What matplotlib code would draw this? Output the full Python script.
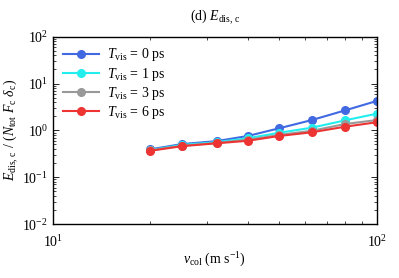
import matplotlib
matplotlib.use('Agg')
import matplotlib.pyplot as plt
import matplotlib.ticker as ticker
import numpy as np

plt.rcParams['font.family'] = ['Liberation Serif', 'DejaVu Serif']
plt.rcParams['mathtext.fontset'] = 'custom'
plt.rcParams['mathtext.rm'] = 'Liberation Serif'
plt.rcParams['mathtext.it'] = 'Liberation Serif:italic'
plt.rcParams['font.size'] = 10

v_col = [20, 25, 32, 40, 50, 63, 80, 100]
e_0ps = [0.394, 0.51, 0.59, 0.76, 1.11, 1.66, 2.68, 4.24]
e_1ps = [0.38, 0.49, 0.56, 0.68, 0.89, 1.14, 1.64, 2.27]
e_3ps = [0.375, 0.47, 0.54, 0.63, 0.80, 0.98, 1.37, 1.66]
e_6ps = [0.367, 0.46, 0.53, 0.60, 0.76, 0.91, 1.20, 1.49]

series = [(e_0ps, '#4169e1', 0), (e_1ps, '#22eeee', 1), (e_3ps, '#999999', 3), (e_6ps, '#ee3333', 6)]

fig = plt.figure(figsize=(3.99, 2.78), dpi=100)
ax = fig.add_axes([0.133, 0.194, 0.811, 0.674])

for vals, col, t in series:
    ax.plot(v_col, vals, '-o', color=col, lw=1.5, ms=5.5,
            label=r'$T_{\rm vis}$ = %d ps' % t)

ax.set_xscale('log')
ax.set_yscale('log')
ax.set_xlim(10, 100)
ax.set_ylim(1e-2, 1e2)
ax.xaxis.set_minor_formatter(ticker.NullFormatter())
ax.yaxis.set_minor_formatter(ticker.NullFormatter())
ax.tick_params(which='both', direction='in', top=True, right=True)
ax.tick_params(which='major', length=4, width=0.6)
ax.tick_params(which='minor', length=2, width=0.5)
ax.tick_params(axis='x', which='major', pad=7)
for s in ax.spines.values():
    s.set_linewidth(1.0)

ax.set_xlabel(r'$v_{\rm col}$ (m s$^{-1}$)', labelpad=1)
ax.set_ylabel(r'$E_{\rm dis,\,c}$ / ($N_{\rm tot}$ $F_{\rm c}$ $\delta_{\rm c}$)', labelpad=2)
ax.set_title(r'(d) $E_{\rm dis,\,c}$', fontsize=10, pad=12)
ax.legend(loc='upper left', frameon=False, handlelength=2.6, labelspacing=0.15,
          borderaxespad=0.3, handletextpad=0.6)

fig.savefig('out.png', dpi=100)
